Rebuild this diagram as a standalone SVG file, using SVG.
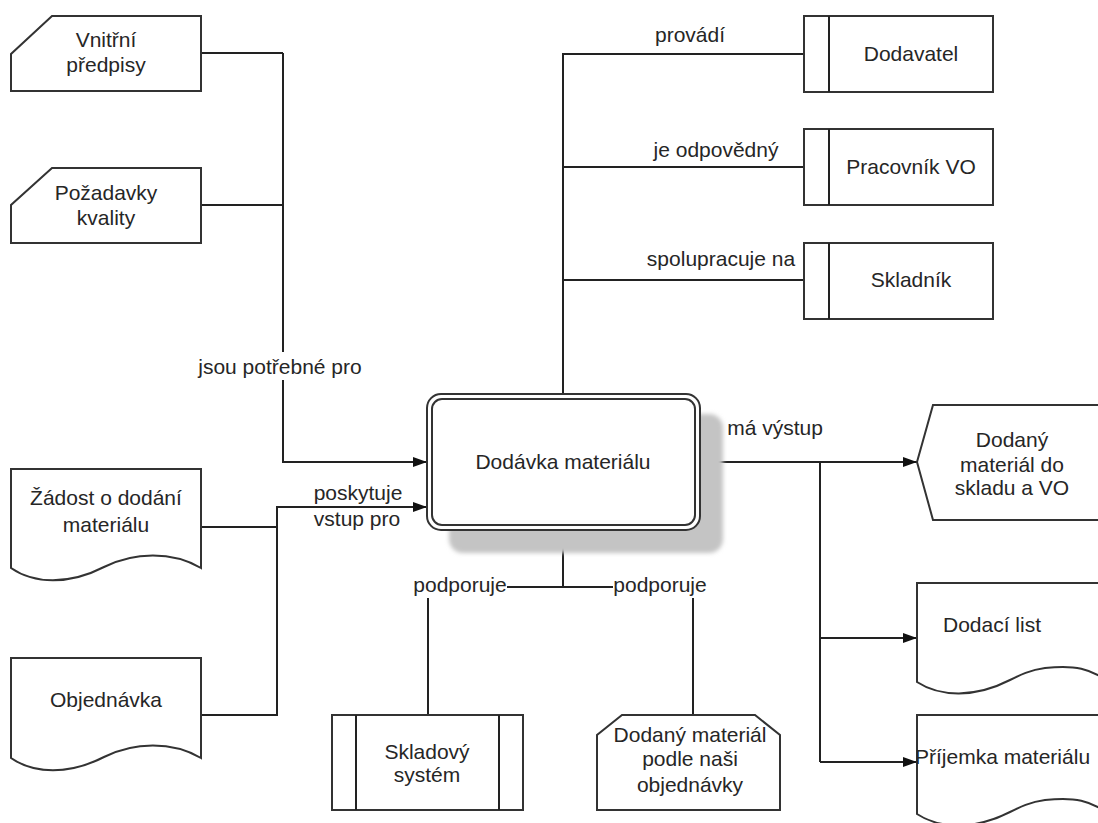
<svg xmlns="http://www.w3.org/2000/svg" width="1098" height="823" viewBox="0 0 1098 823">
  <style>
    .shape { fill: #ffffff; stroke: #333333; stroke-width: 2; }
    .wire { fill: none; stroke: #222222; stroke-width: 2; }
    text { font-family: "Liberation Sans", Arial, sans-serif; font-size: 21px; fill: #262626; }
    .c { text-anchor: middle; }
  </style>
  <defs>
    <marker id="arrow" viewBox="0 0 14 10" refX="14" refY="5" markerWidth="14" markerHeight="10" markerUnits="userSpaceOnUse" orient="auto">
      <path d="M0,0 L14,5 L0,10 Z" fill="#111111"/>
    </marker>
    <filter id="soft" x="-10%" y="-10%" width="120%" height="120%">
      <feGaussianBlur stdDeviation="2"/>
    </filter>
  </defs>

  <rect width="1098" height="823" fill="#ffffff"/>

  <!-- connectors -->
  <g id="connectors" class="wire">
    <path d="M201,53 H283"/>
    <path d="M201,205 H283"/>
    <path d="M283,53 V352"/>
    <path d="M283,380 V462 H427" marker-end="url(#arrow)"/>
    <path d="M201,527 H277"/>
    <path d="M201,715 H277 V507 H427" marker-end="url(#arrow)"/>
    <path d="M563,394 V54 H804"/>
    <path d="M563,167 H804"/>
    <path d="M563,280 H804"/>
    <path d="M563,530 V587"/>
    <path d="M507,587 H613"/>
    <path d="M428,598 V715"/>
    <path d="M693,598 V715"/>
    <path d="M700,462 H917" marker-end="url(#arrow)"/>
    <path d="M820,462 V762"/>
    <path d="M820,638 H917" marker-end="url(#arrow)"/>
    <path d="M820,762 H917" marker-end="url(#arrow)"/>
  </g>

  <!-- connector labels -->
  <g id="labels">
    <text class="c" x="280" y="374">jsou potřebné pro</text>
    <text class="c" x="358" y="500">poskytuje</text>
    <text class="c" x="357" y="526">vstup pro</text>
    <text class="c" x="690" y="42">provádí</text>
    <text class="c" x="716" y="157">je odpovědný</text>
    <text class="c" x="721" y="266">spolupracuje na</text>
    <text class="c" x="775" y="435">má výstup</text>
    <text class="c" x="460" y="592">podporuje</text>
    <text class="c" x="660" y="592">podporuje</text>
  </g>

  <!-- main process -->
  <g id="dodavka">
    <rect x="449" y="414" width="274" height="139" rx="14" fill="#c4c4c4" filter="url(#soft)"/>
    <rect x="427" y="394" width="273" height="136" rx="14" class="shape"/>
    <rect x="432" y="399" width="263" height="126" rx="10" class="shape"/>
    <text class="c" x="563" y="469">Dodávka materiálu</text>
  </g>

  <!-- inputs on the left -->
  <g id="vnitrni-predpisy">
    <path class="shape" d="M52,16 H201 V91 H11 V54 Z"/>
    <text class="c" x="106" y="47">Vnitřní</text>
    <text class="c" x="106" y="72">předpisy</text>
  </g>
  <g id="pozadavky-kvality">
    <path class="shape" d="M52,168 H201 V243 H11 V205 Z"/>
    <text class="c" x="106" y="200">Požadavky</text>
    <text class="c" x="106" y="225">kvality</text>
  </g>
  <g id="zadost">
    <path class="shape" d="M11,469 H201 V568 C172,551 134,552 104,567 C69,585 34,584 11,568 Z"/>
    <text class="c" x="106" y="505">Žádost o dodání</text>
    <text class="c" x="106" y="532">materiálu</text>
  </g>
  <g id="objednavka">
    <path class="shape" d="M11,658 H201 V758 C172,741 134,742 104,757 C69,775 34,774 11,758 Z"/>
    <text class="c" x="106" y="707">Objednávka</text>
  </g>

  <!-- roles on the top right -->
  <g id="dodavatel">
    <rect class="shape" x="804" y="16" width="189" height="76"/>
    <path class="wire" d="M829,16 V92"/>
    <text class="c" x="911" y="61">Dodavatel</text>
  </g>
  <g id="pracovnik-vo">
    <rect class="shape" x="804" y="129" width="189" height="76"/>
    <path class="wire" d="M829,129 V205"/>
    <text class="c" x="911" y="174">Pracovník VO</text>
  </g>
  <g id="skladnik">
    <rect class="shape" x="804" y="243" width="189" height="76"/>
    <path class="wire" d="M829,243 V319"/>
    <text class="c" x="911" y="287">Skladník</text>
  </g>

  <!-- supporting items below -->
  <g id="skladovy-system">
    <rect class="shape" x="332" y="715" width="191" height="95"/>
    <path class="wire" d="M356,715 V810 M499,715 V810"/>
    <text class="c" x="427" y="759">Skladový</text>
    <text class="c" x="427" y="782">systém</text>
  </g>
  <g id="dodany-material-podle">
    <path class="shape" d="M622,715 H755 L780,735 V810 H597 V735 Z"/>
    <text class="c" x="690" y="742">Dodaný materiál</text>
    <text class="c" x="690" y="766">podle naši</text>
    <text class="c" x="690" y="792">objednávky</text>
  </g>

  <!-- outputs on the right -->
  <g id="dodany-material-sklad">
    <path class="shape" d="M933,405 H1110 V520 H933 L917,462 Z"/>
    <text class="c" x="1012" y="447">Dodaný</text>
    <text class="c" x="1012" y="472">materiál do</text>
    <text class="c" x="1012" y="495">skladu a VO</text>
  </g>
  <g id="dodaci-list">
    <path class="shape" d="M917,583 H1110 V683 C1090,668 1075,665 1045,668 C1030,670 1020,675 1010,680 C975,698 940,697 917,682 Z"/>
    <text class="c" x="992" y="632">Dodací list</text>
  </g>
  <g id="prijemka">
    <path class="shape" d="M917,715 H1110 V815 C1090,800 1075,797 1045,800 C1030,802 1020,807 1010,812 C975,830 940,829 917,814 Z"/>
    <text x="915" y="764">Příjemka materiálu</text>
  </g>
</svg>
